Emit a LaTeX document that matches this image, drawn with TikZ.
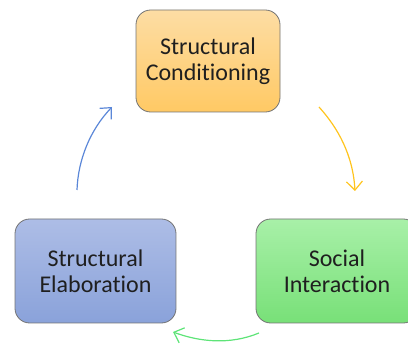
\documentclass[tikz,border=0pt]{standalone}
\usepackage{fontspec}
\setmainfont[Ligatures={NoCommon}]{Carlito}
\usetikzlibrary{arrows.meta}
\definecolor{orT}{HTML}{FDDDA4}
\definecolor{orB}{HTML}{FFC964}
\definecolor{blT}{HTML}{ADBDE6}
\definecolor{blB}{HTML}{8AA2DA}
\definecolor{grT}{HTML}{A8F0A8}
\definecolor{grB}{HTML}{78E078}
\definecolor{arB}{HTML}{5B87D8}
\definecolor{arY}{HTML}{FFC41E}
\definecolor{arG}{HTML}{5EE478}
\tikzset{
  box/.style={draw=black!55, line width=0.6pt, rounded corners=11pt, align=center,
    font=\fontsize{18}{19.5}\selectfont, text=black!88, inner sep=0pt},
  cyc/.style={line width=0.9pt, -{Straight Barb[length=6.5pt,width=12pt,line width=0.9pt]}}
}
\begin{document}
\begin{tikzpicture}[x=0.75pt,y=-0.75pt]
\useasboundingbox (0,0) rectangle (408,349);
\begin{scope}
\clip (0,0) rectangle (408,349);
\node[box, top color=orT, bottom color=orB, minimum width=108pt, minimum height=76.5pt] (sc) at (208,61) {Structural\\Conditioning};
\node[box, top color=blT, bottom color=blB, minimum width=120.75pt, minimum height=78pt] (se) at (95.5,271) {Structural\\Elaboration};
\node[box, top color=grT, bottom color=grB, minimum width=121.5pt, minimum height=78pt] (si) at (337,271) {Social\\Interaction};
\end{scope}
\coordinate (b1) at (77,190);
\coordinate (b2) at (112,107);
\coordinate (y1) at (319,107);
\coordinate (y2) at (355,191);
\coordinate (g1) at (259,333);
\coordinate (g2) at (173,332);
\draw[cyc, draw=arB] (b1) .. controls (78,160) and (90,130) .. (b2);
\draw[cyc, draw=arY] (y1) .. controls (338,128) and (353,155) .. (y2);
\draw[cyc, draw=arG] (g1) .. controls (230,345) and (200,342) .. (g2);
\end{tikzpicture}
\end{document}
